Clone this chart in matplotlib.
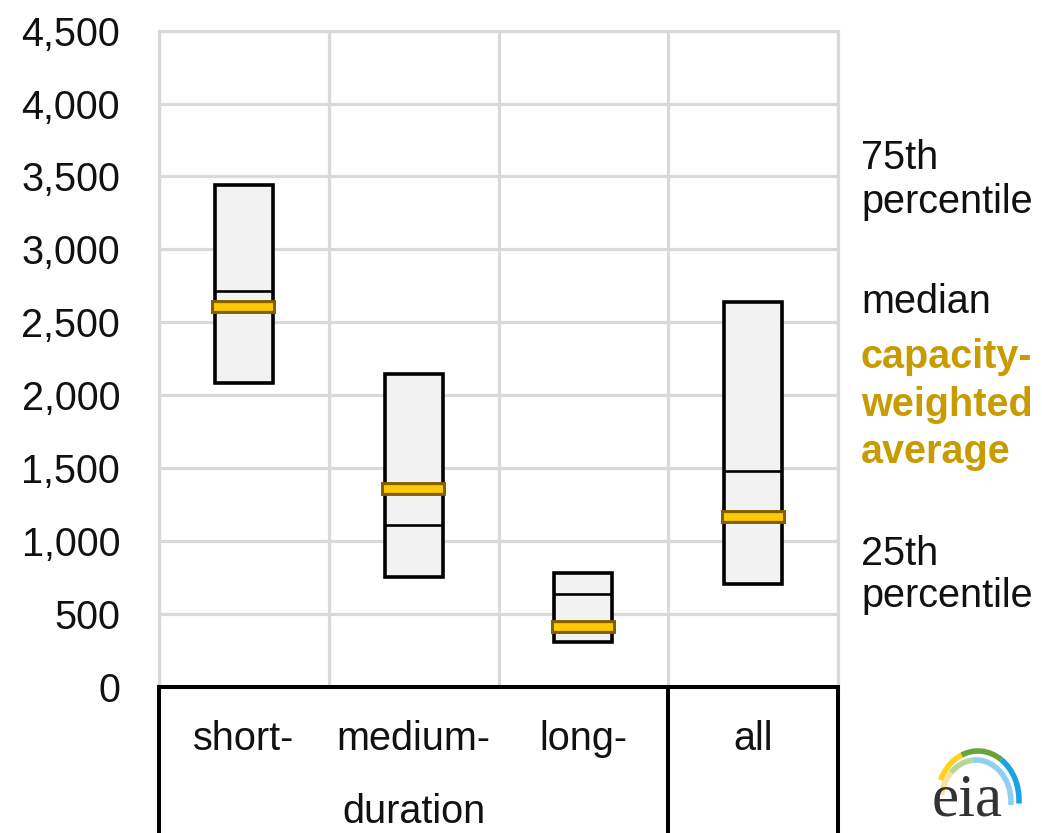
import matplotlib
matplotlib.use("Agg")
import matplotlib.pyplot as plt
from matplotlib.patches import Arc
from matplotlib.transforms import blended_transform_factory

# Battery storage cost distribution by duration class
categories = ["short-", "medium-", "long-", "all"]
p25 = [2080, 750, 305, 705]
medians = [2715, 1105, 635, 1478]
p75 = [3440, 2145, 778, 2637]
weighted_avg = [2605, 1355, 408, 1163]
y_ticks = list(range(0, 4501, 500))

W, H, DPI = 1042, 833, 100
plt.rcParams['font.family'] = ['Liberation Sans', 'DejaVu Sans']

GRID = '#d9d9d9'
TEXT = '#111111'
GOLD_TEXT = '#c89b00'
BOX_FACE = '#f2f2f2'
AVG_EDGE = '#806000'
AVG_FILL = '#ffc800'
FS = 28.5

fig = plt.figure(figsize=(W / DPI, H / DPI), dpi=DPI)


def fx(px):
    return px / W


def fy(py):
    return 1 - py / H


ax = fig.add_axes([fx(159), fy(686.5), fx(838) - fx(159), fy(30.7) - fy(686.5)])
ax.set_xlim(-0.5, len(categories) - 0.5)
ax.set_ylim(0, 4500)
ax.set_axisbelow(True)

# grid: horizontal every 500, vertical between categories
ax.set_yticks(y_ticks)
ax.set_yticklabels([f"{v:,}" for v in y_ticks], fontsize=FS, color=TEXT)
ax.set_xticks([])
ax.set_xticks([i - 0.5 for i in range(len(categories) + 1)], minor=True)
ax.yaxis.grid(True, color=GRID, lw=2.3)
ax.xaxis.grid(True, which='minor', color=GRID, lw=2.3)
ax.tick_params(which='both', length=0)
ax.tick_params(axis='y', pad=28)

for side in ('left', 'top', 'right'):
    ax.spines[side].set_color(GRID)
    ax.spines[side].set_linewidth(2.3)
ax.spines['bottom'].set_color('black')
ax.spines['bottom'].set_linewidth(2.9)

# boxes spanning 25th to 75th percentile
box_w = 0.342
avg_w = 0.383
xs = list(range(len(categories)))
heights = [hi - lo for lo, hi in zip(p25, p75)]
ax.bar(xs, heights, bottom=p25, width=box_w, color=BOX_FACE,
       edgecolor='black', linewidth=2.6, zorder=3)
for x, m in zip(xs, medians):
    ax.plot([x - box_w / 2, x + box_w / 2], [m, m], color='black', lw=1.9,
            solid_capstyle='butt', zorder=4)
for x, a in zip(xs, weighted_avg):
    ax.plot([x - avg_w / 2, x + avg_w / 2], [a, a], color=AVG_EDGE, lw=10,
            solid_capstyle='butt', zorder=5)
    ax.plot([x - avg_w / 2 + 0.018, x + avg_w / 2 - 0.018], [a, a],
            color=AVG_FILL, lw=5.6, solid_capstyle='butt', zorder=6)

# table-style category area below the axis
below = blended_transform_factory(ax.transData, ax.transAxes)
for xv in (-0.5, 2.5, 3.5):
    ax.plot([xv, xv], [0, -0.3], transform=below, color='black', lw=2.9,
            clip_on=False, solid_capstyle='butt', zorder=7)

lab_tr = blended_transform_factory(ax.transData, fig.transFigure)
for x, c in zip(xs, categories):
    ax.text(x, fy(750), c, transform=lab_tr, ha='center', va='baseline',
            fontsize=FS, color=TEXT)
ax.text(1, fy(823), "duration", transform=lab_tr, ha='center', va='baseline',
        fontsize=FS, color=TEXT)

# legend-style annotations on the right
right_labels = [
    ("75th", 169, TEXT, 'normal'),
    ("percentile", 213, TEXT, 'normal'),
    ("median", 313, TEXT, 'normal'),
    ("capacity-", 368, GOLD_TEXT, 'bold'),
    ("weighted", 416, GOLD_TEXT, 'bold'),
    ("average", 463, GOLD_TEXT, 'bold'),
    ("25th", 565, TEXT, 'normal'),
    ("percentile", 607, TEXT, 'normal'),
]
for txt, yb, col, wt in right_labels:
    fig.text(fx(861), fy(yb), txt, ha='left', va='baseline', fontsize=FS,
             color=col, fontweight=wt)

# eia logo
lax = fig.add_axes([0, 0, 1, 1])
lax.set_xlim(0, W)
lax.set_ylim(0, H)
lax.axis('off')
cx, cy = 978, H - 800
outer = [(110, 152, '#ffd21e'), (60, 110, '#6aa33a'), (-5, 60, '#1aa3e0')]
inner = [(130, 168, '#f3e4a0'), (95, 130, '#b5d69a'), (-5, 95, '#8fd0f0')]
for t1, t2, col in outer:
    lax.add_patch(Arc((cx, cy), 82, 98, theta1=t1, theta2=t2, color=col, lw=4))
for t1, t2, col in inner:
    lax.add_patch(Arc((cx - 2, cy - 2), 70, 84, theta1=t1, theta2=t2, color=col, lw=4))
lax.text(967, H - 815, "eia", ha='center', va='baseline', fontsize=44,
         family='Liberation Serif', color='#333333')

fig.savefig("out.png", dpi=DPI)
